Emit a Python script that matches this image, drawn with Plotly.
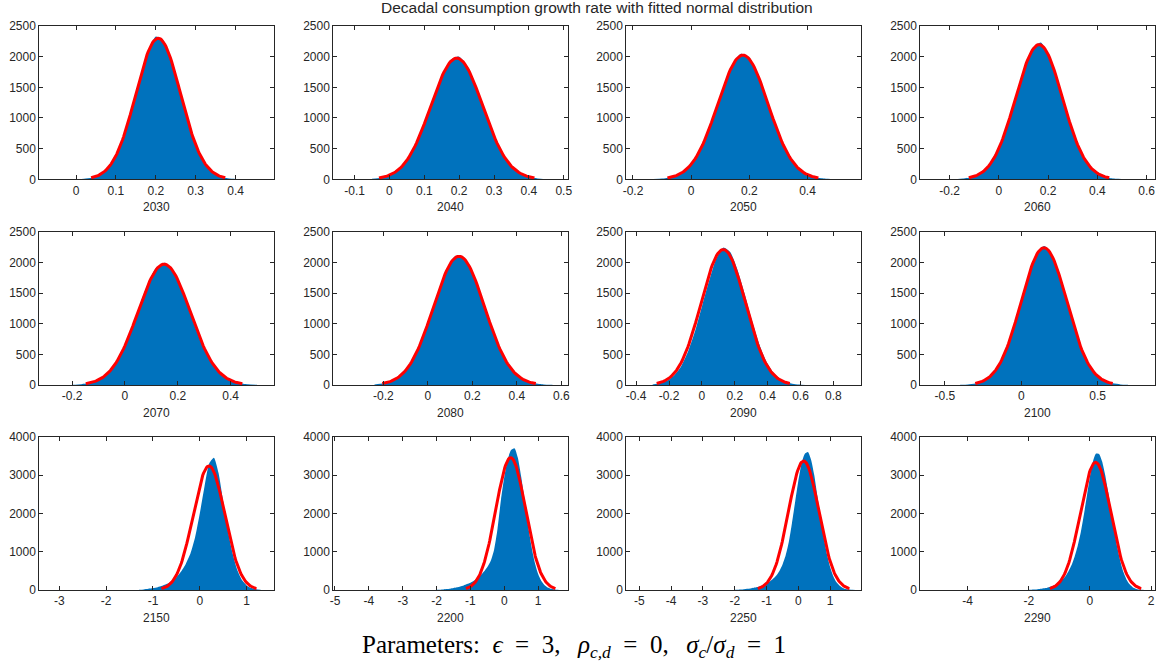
import numpy as np
import plotly.graph_objects as go

# ---------------- data ----------------
years = ["2030", "2040", "2050", "2060", "2070", "2080", "2090", "2100",
         "2150", "2200", "2250", "2290"]

# histogram silhouettes: first bin centre, bin step, heights (counts)
hist_start = [0.00, -0.05, -0.13, -0.18, -0.20, -0.24, -0.30, -0.40,
              -1.3, -2.0, -2.0, -2.0]
hist_step = [0.02, 0.025, 0.03, 0.035, 0.035, 0.04, 0.043, 0.05,
             0.1, 0.1, 0.1, 0.1]
h2030 = [2, 9, 26, 75, 178, 370, 695, 1140, 1640, 2080, 2330, 2260, 1915, 1430, 945, 548, 283, 125, 50, 18, 6, 1]
h2040 = [8, 27, 66, 155, 308, 562, 900, 1302, 1675, 1945, 2000, 1830, 1475, 1072, 702, 406, 213, 97, 42, 15, 5]
h2050 = [4, 12, 35, 86, 198, 388, 690, 1082, 1498, 1860, 2045, 1985, 1680, 1275, 866, 514, 275, 128, 55, 20, 7, 2]
h2060 = [3, 12, 37, 97, 230, 466, 838, 1300, 1780, 2130, 2230, 2000, 1570, 1080, 655, 342, 160, 62, 23, 7, 2]
h2070 = [4, 14, 41, 99, 225, 437, 765, 1165, 1580, 1895, 1995, 1840, 1485, 1072, 678, 382, 186, 83, 31, 11, 3]
h2080 = [9, 28, 71, 160, 340, 612, 1005, 1445, 1840, 2095, 2090, 1825, 1432, 998, 620, 334, 165, 68, 28, 9, 3]
h2090 = [10, 28, 68, 152, 298, 542, 875, 1290, 1700, 2060, 2240, 2165, 1885, 1498, 1075, 698, 404, 215, 101, 45, 17, 6, 2]
h2100 = [3, 9, 26, 63, 148, 300, 560, 915, 1360, 1795, 2140, 2265, 2125, 1785, 1350, 915, 555, 302, 150, 66, 27, 10, 3]
h2150 = [5, 15, 30, 50, 75, 110, 160, 230, 330, 480, 680, 950, 1380, 2000, 2700, 3300, 3450, 3050, 2300,
         1550, 950, 520, 260, 120, 50, 20, 5]
h2200 = [5, 9, 15, 24, 35, 50, 70, 92, 120, 155, 190, 240, 300, 380, 480, 600, 760, 1060, 1600, 2350,
         2950, 3400, 3650, 3700, 3450, 2950, 2350, 1700, 1150, 720, 420, 230, 120, 60, 30, 12, 4]
h2250 = [5, 8, 13, 20, 30, 42, 58, 78, 100, 130, 170, 220, 285, 370, 490, 660, 900, 1250, 1750, 2300,
         2850, 3300, 3550, 3600, 3400, 3000, 2450, 1900, 1380, 930, 600, 360, 200, 110, 55, 25, 10, 4, 2]
h2290 = [5, 8, 12, 20, 30, 43, 60, 82, 110, 150, 200, 270, 360, 490, 650, 870, 1150, 1500, 1950, 2450,
         2950, 3350, 3560, 3550, 3350, 3000, 2550, 2050, 1550, 1100, 740, 460, 270, 150, 75, 35, 15, 6, 3]
hist_counts = [h2030, h2040, h2050, h2060, h2070, h2080, h2090, h2100, h2150, h2200, h2250, h2290]

# fitted normal: mean, std, peak height (curve drawn over mean +/- 3 std)
fit_mu = [0.206, 0.193, 0.178, 0.163, 0.148, 0.14, 0.13, 0.149, 0.196, 0.188, 0.167, 0.186]
fit_sigma = [0.056, 0.0743, 0.0865, 0.095, 0.0987, 0.115, 0.135, 0.150, 0.338, 0.44, 0.48, 0.498]
fit_peak = [2300, 1975, 2025, 2195, 1970, 2100, 2210, 2238, 3235, 3452, 3365, 3330]

# axis limits and ticks
x_ranges = [[-0.092, 0.497], [-0.161, 0.513], [-0.223, 0.585], [-0.319, 0.635],
            [-0.324, 0.565], [-0.425, 0.631], [-0.46, 0.97], [-0.661, 0.878],
            [-3.427, 1.59], [-5.05, 1.89], [-5.41, 1.98], [-5.55, 2.14]]
x_ticks = [[0, 0.1, 0.2, 0.3, 0.4],
           [-0.1, 0, 0.1, 0.2, 0.3, 0.4, 0.5],
           [-0.2, 0, 0.2, 0.4],
           [-0.2, 0, 0.2, 0.4, 0.6],
           [-0.2, 0, 0.2, 0.4],
           [-0.2, 0, 0.2, 0.4, 0.6],
           [-0.4, -0.2, 0, 0.2, 0.4, 0.6, 0.8],
           [-0.5, 0, 0.5],
           [-3, -2, -1, 0, 1],
           [-5, -4, -3, -2, -1, 0, 1],
           [-5, -4, -3, -2, -1, 0, 1],
           [-4, -2, 0, 2]]
y_max = [2500] * 8 + [4000] * 4
y_ticks_small = [0, 500, 1000, 1500, 2000, 2500]
y_ticks_large = [0, 1000, 2000, 3000, 4000]

title_text = "Decadal consumption growth rate with fitted normal distribution"
EN, TH = "\u2002", "\u2009"
EQ = EN + "=" + EN
SEP = "," + EN + TH
footer_text = ("Parameters:" + EN +
               "<i>ϵ</i>" + EQ + "3" + SEP +
               "<i>ρ</i><sub><i>c,d</i></sub>" + EQ + "0" + SEP +
               "<i>σ</i><sub><i>c</i></sub>/<i>σ</i><sub><i>d</i></sub>" + EQ + "1")

# ---------------- layout geometry (pixels) ----------------
W, H = 1166, 669
col_left = [39.3, 333.3, 626.3, 920.3]
col_w = 235.0
row_top = [26.0, 231.7, 436.7]
row_h = 153.3

AX_COLOR = "#262626"
FONT = "Liberation Sans, Arial, Helvetica, sans-serif"


def fmt(v):
    return "%g" % v


fig = go.Figure()
annotations = []
layout = {}

for i in range(12):
    r, c = divmod(i, 4)
    n = i + 1
    xa = "x" if n == 1 else f"x{n}"
    ya = "y" if n == 1 else f"y{n}"

    xs = [hist_start[i] + k * hist_step[i] for k in range(len(hist_counts[i]))]
    fig.add_trace(go.Scatter(
        x=xs, y=hist_counts[i], xaxis=xa, yaxis=ya, mode="lines",
        line=dict(width=0, shape="spline", smoothing=0.6, color="#0072BD"),
        fill="tozeroy", fillcolor="#0072BD", showlegend=False, hoverinfo="skip"))

    mu, sg, pk = fit_mu[i], fit_sigma[i], fit_peak[i]
    fx = np.linspace(mu - 3 * sg, mu + 3 * sg, 121)
    fy = pk * np.exp(-0.5 * ((fx - mu) / sg) ** 2)
    fig.add_trace(go.Scatter(
        x=fx, y=fy, xaxis=xa, yaxis=ya, mode="lines",
        line=dict(color="#FF0000", width=3), showlegend=False, hoverinfo="skip"))

    x0 = col_left[c] / W
    x1 = (col_left[c] + col_w) / W
    y1 = 1 - row_top[r] / H
    y0 = 1 - (row_top[r] + row_h) / H

    common = dict(showline=True, linecolor=AX_COLOR, linewidth=1, mirror="ticks",
                  ticks="inside", ticklen=4, tickcolor=AX_COLOR, tickwidth=1,
                  showgrid=False, zeroline=False, automargin=False,
                  tickfont=dict(family=FONT, size=12, color=AX_COLOR))
    layout[f"xaxis{n}"] = dict(domain=[x0, x1], anchor=ya, range=x_ranges[i],
                               tickvals=x_ticks[i], ticktext=[fmt(v) for v in x_ticks[i]],
                               **common)
    yt = y_ticks_small if y_max[i] == 2500 else y_ticks_large
    layout[f"yaxis{n}"] = dict(domain=[y0, y1], anchor=xa, range=[0, y_max[i]],
                               tickvals=yt, ticktext=[str(v) for v in yt], **common)

    annotations.append(dict(
        text=years[i], xref="paper", yref="paper",
        x=(col_left[c] + col_w / 2) / W, y=1 - (row_top[r] + row_h + 28) / H,
        xanchor="center", yanchor="middle", showarrow=False,
        font=dict(family=FONT, size=12, color=AX_COLOR)))

annotations.append(dict(
    text=title_text, xref="paper", yref="paper", x=597 / W, y=1 - 7.5 / H,
    xanchor="center", yanchor="middle", showarrow=False,
    font=dict(family=FONT, size=15.5, color=AX_COLOR)))
annotations.append(dict(
    text=footer_text, xref="paper", yref="paper", x=574 / W, y=1 - 646 / H,
    xanchor="center", yanchor="middle", showarrow=False,
    font=dict(family="Liberation Serif, DejaVu Serif, serif", size=25, color="#000000")))

fig.update_layout(width=W, height=H, margin=dict(l=0, r=0, t=0, b=0),
                  paper_bgcolor="white", plot_bgcolor="white",
                  annotations=annotations, **layout)

fig.write_html("out.html", config={"displayModeBar": False},
               post_script="document.body.style.margin='0';document.body.style.overflow='hidden';")
